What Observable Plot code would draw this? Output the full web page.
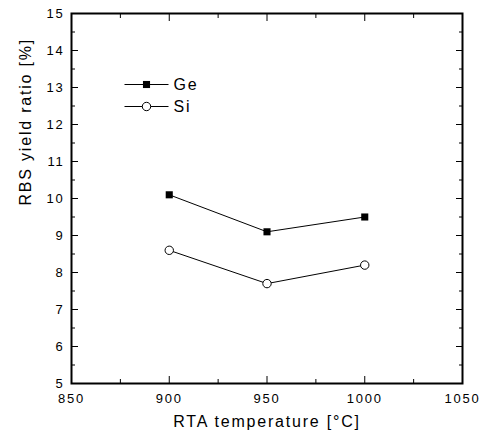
<!DOCTYPE html>
<html><head>
<meta charset="utf-8">
<script src="https://cdn.jsdelivr.net/npm/d3@7"></script>
<script src="https://cdn.jsdelivr.net/npm/@observablehq/plot@0.6"></script>
<style>
body{margin:0;background:#fff}
#chart svg{font-family:"Liberation Sans",Arial,sans-serif;background:#fff}
#chart svg text{letter-spacing:1.8px}
</style>
</head><body><div id="chart"></div>
<script>
const temps = [900, 950, 1000];
const geValues = [10.1, 9.1, 9.5];
const siValues = [8.6, 7.7, 8.2];
const seriesNames = ["Ge", "Si"];
const xTicks = [850, 900, 950, 1000, 1050];
const xMinor = [875, 925, 975, 1025];
const yTicks = [5, 6, 7, 8, 9, 10, 11, 12, 13, 14, 15];
const yMinor = [5.5, 6.5, 7.5, 8.5, 9.5, 10.5, 11.5, 12.5, 13.5, 14.5];
const xLabel = ["RTA temperature [°C]"];
const yLabel = ["RBS yield ratio [%]"];

const ge = temps.map((t, i) => ({x: t, y: geValues[i]}));
const si = temps.map((t, i) => ({x: t, y: siValues[i]}));

const hline = {draw(ctx) { ctx.moveTo(-22, 0); ctx.lineTo(22, 0); }};
const blank = () => "";
const fmt = d3.format("d");
const legendDy = [71, 93];

const chart = Plot.plot({
  width: 488, height: 441,
  marginLeft: 71, marginRight: 26, marginTop: 13, marginBottom: 58,
  style: {fontSize: "13px", fontFamily: "'Liberation Sans', Arial, sans-serif", color: "black", background: "white"},
  x: {domain: [850, 1050]},
  y: {domain: [5, 15]},
  marks: [
    Plot.axisX(xTicks, {anchor: "bottom", tickSize: -7, tickPadding: 17, fontSize: 13, tickFormat: fmt, label: null}),
    Plot.axisX(xMinor, {anchor: "bottom", tickSize: -4, tickFormat: blank, label: null}),
    Plot.axisX(xTicks, {anchor: "top", tickSize: -7, tickFormat: blank, label: null}),
    Plot.axisX(xMinor, {anchor: "top", tickSize: -4, tickFormat: blank, label: null}),
    Plot.axisY(yTicks, {anchor: "left", tickSize: -7, tickPadding: 14, fontSize: 13, tickFormat: fmt, label: null}),
    Plot.axisY(yMinor, {anchor: "left", tickSize: -4, tickFormat: blank, label: null}),
    Plot.axisY(yTicks, {anchor: "right", tickSize: -7, tickFormat: blank, label: null}),
    Plot.axisY(yMinor, {anchor: "right", tickSize: -4, tickFormat: blank, label: null}),
    Plot.frame({stroke: "black", strokeWidth: 2}),
    // axis titles
    Plot.text(xLabel, {frameAnchor: "bottom", dy: 38, text: d => d, fontSize: 16, lineAnchor: "middle"}),
    Plot.text(yLabel, {frameAnchor: "left", dx: -46, dy: 7, rotate: -90, text: d => d, fontSize: 16, lineAnchor: "middle"}),
    // data
    Plot.line(ge, {x: "x", y: "y", stroke: "black", strokeWidth: 1}),
    Plot.line(si, {x: "x", y: "y", stroke: "black", strokeWidth: 1}),
    Plot.dot(ge, {x: "x", y: "y", symbol: "square", r: 4, fill: "black", stroke: "none"}),
    Plot.dot(si, {x: "x", y: "y", symbol: "circle", r: 4.2, fill: "white", stroke: "black", strokeWidth: 1}),
    // legend
    Plot.dot(seriesNames.slice(0, 1), {frameAnchor: "top-left", dx: 75, dy: legendDy[0], symbol: hline, stroke: "black", fill: "none", strokeWidth: 1}),
    Plot.dot(seriesNames.slice(1, 2), {frameAnchor: "top-left", dx: 75, dy: legendDy[1], symbol: hline, stroke: "black", fill: "none", strokeWidth: 1}),
    Plot.dot(seriesNames.slice(0, 1), {frameAnchor: "top-left", dx: 75, dy: legendDy[0], symbol: "square", r: 4, fill: "black", stroke: "none"}),
    Plot.dot(seriesNames.slice(1, 2), {frameAnchor: "top-left", dx: 75, dy: legendDy[1], symbol: "circle", r: 4.2, fill: "white", stroke: "black", strokeWidth: 1}),
    Plot.text(seriesNames.slice(0, 1), {frameAnchor: "top-left", dx: 102, dy: legendDy[0], text: d => d, textAnchor: "start", fontSize: 16, lineAnchor: "middle"}),
    Plot.text(seriesNames.slice(1, 2), {frameAnchor: "top-left", dx: 102, dy: legendDy[1], text: d => d, textAnchor: "start", fontSize: 16, lineAnchor: "middle"})
  ]
});
document.getElementById("chart").append(chart);
</script>
</body></html>
